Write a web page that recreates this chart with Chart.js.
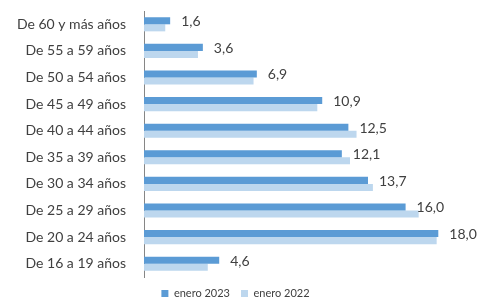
<!DOCTYPE html>
<html>
<head>
<meta charset="utf-8">
<script src="https://cdn.jsdelivr.net/npm/chart.js@4"></script>
<style>
  html, body { margin: 0; padding: 0; background: #fff; }
  #wrap { width: 479px; height: 298px; }
</style>
</head>
<body>
<div id="wrap"><canvas id="myChart" width="479" height="298"></canvas></div>
<script>
const categories = ['De 60 y más años', 'De 55 a 59 años', 'De 50 a 54 años', 'De 45 a 49 años',
  'De 40 a 44 años', 'De 35 a 39 años', 'De 30 a 34 años', 'De 25 a 29 años',
  'De 20 a 24 años', 'De 16 a 19 años'];
const enero2023 = [1.6, 3.6, 6.9, 10.9, 12.5, 12.1, 13.7, 16.0, 18.0, 4.6];
const enero2022 = [1.3, 3.3, 6.7, 10.6, 13.0, 12.6, 14.0, 16.8, 17.9, 3.9];

// etiquetas solo para la serie 2023, con coma decimal
const labelPlugin = {
  id: 'valueLabels',
  afterDatasetsDraw(chart) {
    const ctx = chart.ctx;
    const meta = chart.getDatasetMeta(0);
    ctx.save();
    ctx.font = '14px Lato, "Open Sans", sans-serif';
    ctx.fillStyle = '#404040';
    ctx.textAlign = 'left';
    ctx.textBaseline = 'middle';
    meta.data.forEach((bar, i) => {
      ctx.fillText(enero2023[i].toFixed(1).replace('.', ','), bar.x + 11, bar.y + 1);
    });
    ctx.restore();
  }
};

const chartCtx = document.getElementById('myChart').getContext('2d');
const barChart = new Chart(chartCtx, {
  type: 'bar',
  data: {
    labels: categories,
    datasets: [{
      label: 'enero 2023',
      data: enero2023,
      backgroundColor: '#5B9BD5',
      categoryPercentage: 0.53,
      barPercentage: 1
    }, {
      label: 'enero 2022',
      data: enero2022,
      backgroundColor: '#BDD7EE',
      categoryPercentage: 0.53,
      barPercentage: 1
    }]
  },
  options: {
    indexAxis: 'y',
    responsive: false,
    animation: false,
    layout: { padding: { top: 11, right: 8, left: 0, bottom: -11 } },
    plugins: {
      legend: {
        position: 'bottom',
        labels: {
          boxWidth: 7,
          boxHeight: 7,
          padding: 11,
          color: '#404040',
          font: { size: 11, family: 'Lato, "Open Sans", sans-serif' }
        }
      },
      tooltip: { enabled: false }
    },
    scales: {
      x: {
        display: false,
        min: 0,
        max: 20
      },
      y: {
        afterFit(scale) {
          scale.width = 144;
          scale.paddingTop = 0;
          scale.paddingBottom = 0;
        },
        grid: { display: true, drawOnChartArea: false, drawTicks: false },
        border: { color: '#868686', width: 1 },
        ticks: {
          padding: 18,
          color: '#404040',
          font: { size: 14, family: 'Lato, "Open Sans", sans-serif' }
        }
      }
    }
  },
  plugins: [labelPlugin]
});
</script>
</body>
</html>
